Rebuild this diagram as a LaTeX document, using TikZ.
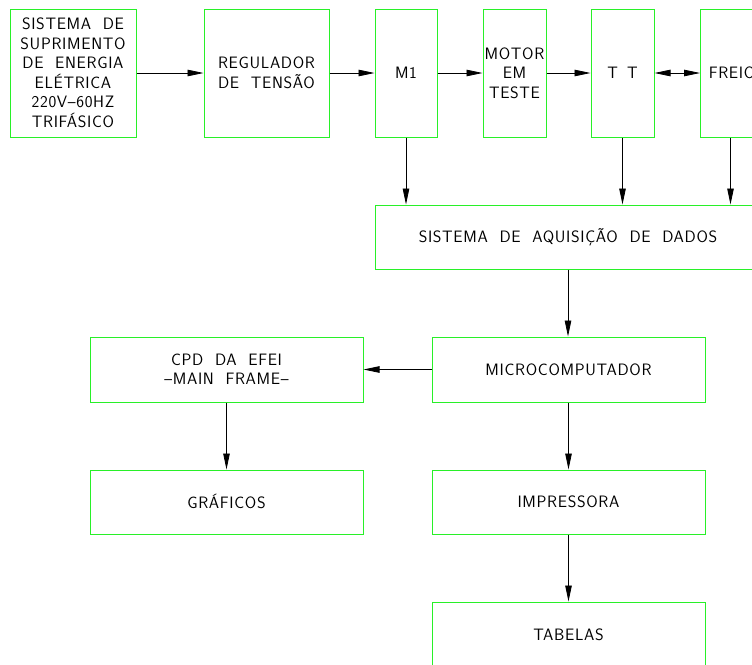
\documentclass[tikz,border=0pt]{standalone}
\usepackage{fontspec}
\usetikzlibrary{arrows.meta}
\newfontfamily\cad{Latin Modern Sans}[LetterSpace=4,WordSpace=2.0]
\definecolor{boxgreen}{RGB}{40,240,40}
\tikzset{
  blk/.style={draw=boxgreen, line width=1pt, inner sep=0pt, align=center,
    font=\cad\fontsize{16.5}{19.5}\selectfont, text=black},
  arr/.style={line width=0.8pt, -{Triangle[length=16pt,width=6.5pt]}},
  darr/.style={line width=0.8pt, {Triangle[length=16pt,width=6.5pt]}-{Triangle[length=16pt,width=6.5pt]}}
}
\begin{document}
\begin{tikzpicture}[x=1pt,y=-1pt]
\useasboundingbox (0,0) rectangle (752,664);
\clip (0,0) rectangle (752,664);
\node[blk, minimum width=126pt, minimum height=128pt] (sup) at (73,73)
  {SISTEMA DE\\SUPRIMENTO\\DE ENERGIA\\ELÉTRICA\\220V–60HZ\\TRIFÁSICO};
\node[blk, minimum width=125pt, minimum height=128pt] (reg) at (266.5,73)
  {REGULADOR\\DE TENSÃO};
\node[blk, minimum width=62pt, minimum height=128pt] (m1) at (406,73) {M1};
\node[blk, minimum width=63pt, minimum height=128pt] (mot) at (514.5,73)
  {MOTOR\\EM\\TESTE};
\node[blk, minimum width=63pt, minimum height=128pt] (tt) at (622.5,73)
  {T\hspace{9pt}T};
\node[blk, minimum width=63pt, minimum height=128pt] (fre) at (732,73) {FREIO};
\node[blk, minimum width=386pt, minimum height=64pt] (acq) at (568,237)
  {SISTEMA DE AQUISIÇÃO DE DADOS};
\node[blk, minimum width=273pt, minimum height=65pt] (mic) at (568.5,369.5)
  {MICROCOMPUTADOR};
\node[blk, minimum width=273pt, minimum height=65pt] (cpd) at (226.5,369.5)
  {CPD DA EFEI\\–MAIN FRAME–};
\node[blk, minimum width=273pt, minimum height=64pt] (gra) at (226.5,502)
  {GRÁFICOS};
\node[blk, minimum width=273pt, minimum height=64pt] (imp) at (568.5,502)
  {IMPRESSORA};
\node[blk, minimum width=273pt, minimum height=65pt] (tab) at (568.5,634.5)
  {TABELAS};
\draw[arr] (sup) -- (reg);
\draw[arr] (reg) -- (m1);
\draw[arr] (m1) -- (mot);
\draw[arr] (mot) -- (tt);
\draw[darr] (tt) -- (fre);
\draw[arr] (m1.south) -- (m1.south |- acq.north);
\draw[arr] (tt.south) -- (tt.south |- acq.north);
\draw[arr] ([xshift=-1.5pt]fre.south) -- ([xshift=-1.5pt]fre.south |- acq.north);
\draw[arr] (acq.south) -- (acq.south |- mic.north);
\draw[arr] (mic) -- (cpd);
\draw[arr] (cpd) -- (gra);
\draw[arr] (mic) -- (imp);
\draw[arr] (imp) -- (tab);
\end{tikzpicture}
\end{document}
